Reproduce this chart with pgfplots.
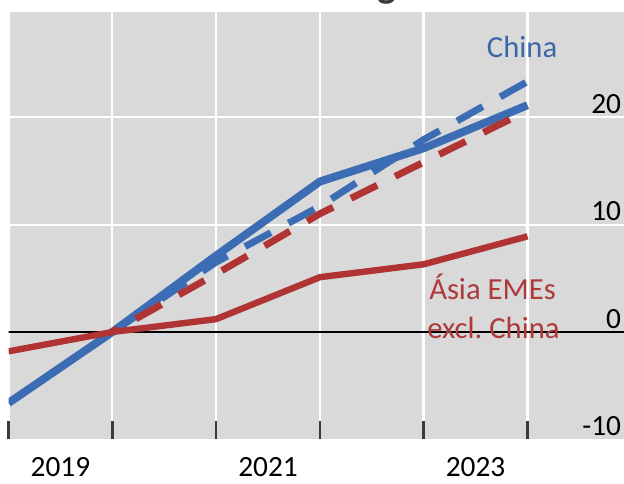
\documentclass[border=0pt]{standalone}
\usepackage{pgfplots}
\pgfplotsset{compat=1.18}
\usepackage{fontspec}
\setmainfont{Carlito}
\definecolor{bgc}{HTML}{D9D9D9}
\definecolor{bl}{HTML}{3C6DB4}
\definecolor{rd}{HTML}{B03434}
\definecolor{blt}{HTML}{3D66A9}
\definecolor{rdt}{HTML}{AE3A3A}
\definecolor{tk}{HTML}{3A3A3A}
\begin{document}
\frenchspacing
\begin{tikzpicture}
\path[use as bounding box] (0pt,0pt) rectangle (468pt,363pt);
\clip (0pt,0pt) rectangle (468pt,363pt);
\node[anchor=base, inner sep=0pt, text=tk, font=\fontsize{30}{30}\selectfont\bfseries] at (290.25pt,364.5pt) {g};
\begin{axis}[
  at={(6.375pt,33.375pt)}, anchor=south west,
  scale only axis, width=473.625pt, height=320.6pt,
  xmin=2019, xmax=2025.084, ymin=-10, ymax=29.77,
  axis background/.style={fill=bgc},
  axis line style={draw=none},
  xtick={2019,2020,2021,2022,2023,2024}, xticklabels={},
  xtick pos=bottom, tick align=inside,
  major tick length=13.5pt,
  xtick style={tk, line width=2pt},
  xmajorgrids=true, grid style={white, line width=1.8pt},
  extra x ticks={2019.5,2021.5,2023.5},
  extra x tick labels={2019,2021,2023},
  extra x tick style={grid=none, major tick length=0pt},
  xticklabel style={anchor=base, yshift=-27.5pt, inner sep=0pt, font=\fontsize{22}{22}\selectfont},
  ytick={-10,0,10,20}, yticklabels={-10,0,10,20},
  yticklabel pos=right, ytick pos=right,
  ytick style={draw=none},
  yticklabel style={anchor=base east, inner sep=0pt, xshift=-14pt, yshift=3pt, font=\fontsize{22}{22}\selectfont},
]
\addplot[white, line width=1.5pt, forget plot] coordinates {(2018,10) (2026,10)};
\addplot[white, line width=1.5pt, forget plot] coordinates {(2018,20) (2026,20)};
\addplot[black, line width=1.2pt, forget plot] coordinates {(2018,0) (2026,0)};
% China, dashed
\addplot[bl, line width=5.2pt, dash pattern=on 22pt off 15pt, dash phase=29.5pt] coordinates {
 (2020,0) (2021,6.5) (2022,11.7) (2023,17.9) (2024,23.3)};
% China, solid
\addplot[bl, line width=6pt, line join=round] coordinates {
 (2019,-6.6) (2020,0) (2021,7.1) (2022,14.0) (2023,17.1) (2024,21.1)};
% Asia EMEs excl. China, dashed
\addplot[rd, line width=5.2pt, dash pattern=on 22pt off 15pt, dash phase=16.8pt] coordinates {
 (2020,0) (2021,5.4) (2022,11.0) (2023,15.8) (2024,20.6)};
% Asia EMEs excl. China, solid
\addplot[rd, line width=4.8pt, line join=round] coordinates {
 (2019,-1.8) (2020,0) (2021,1.2) (2022,5.1) (2023,6.3) (2024,8.9)};
\node[anchor=base west, inner sep=0pt, text=blt, font=\fontsize{23}{23}\selectfont] at (axis cs:2023.607,25.55) {China};
\node[anchor=base west, inner sep=0pt, text=rdt, font=\fontsize{23}{23}\selectfont] at (axis cs:2023.051,3.07) {Ásia EMEs};
\node[anchor=base west, inner sep=0pt, text=rdt, font=\fontsize{23}{23}\selectfont] at (axis cs:2023.032,-0.56) {excl. China};
\end{axis}
\end{tikzpicture}
\end{document}
